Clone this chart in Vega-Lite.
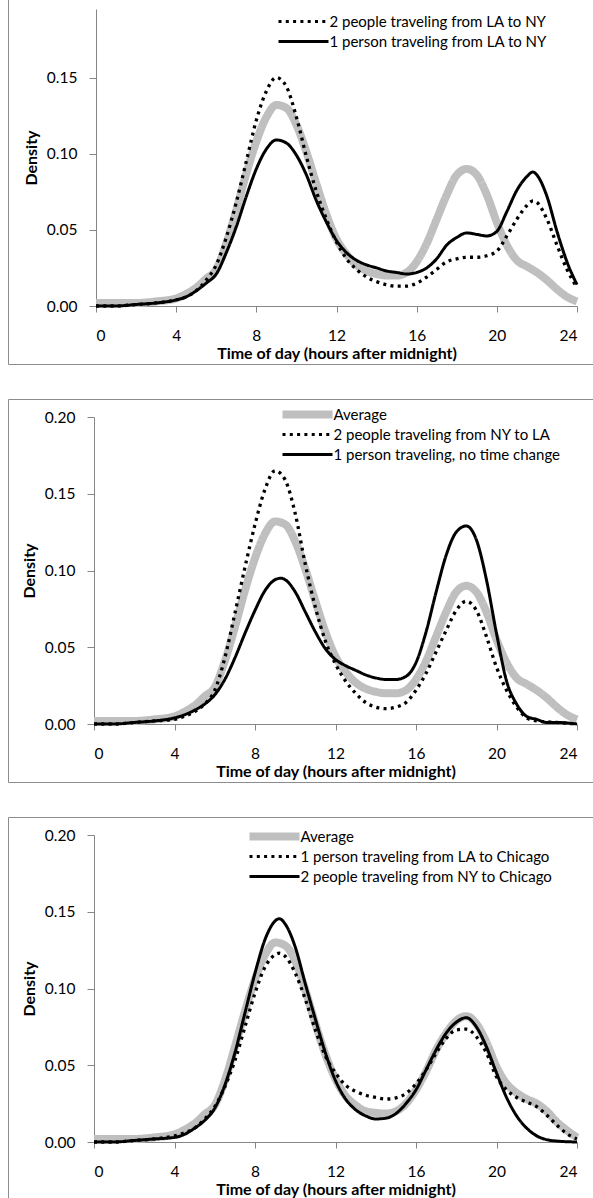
{
"$schema": "https://vega.github.io/schema/vega-lite/v6.json",
"background": "white",
"padding": {"left": 7, "top": -10, "right": 0, "bottom": 0},
"spacing": 33,
"config": {
  "font": "Lato",
  "view": {"stroke": "#8c8c8c", "strokeWidth": 1},
  "axis": {"domainColor": "#868686", "tickColor": "#868686", "grid": false, "labelFont": "Lato", "labelFontSize": 15.5, "labelColor": "#000000", "titleFont": "Lato", "titleFontSize": 16, "titleFontWeight": "bold", "titleColor": "#000000", "domainWidth": 1, "tickWidth": 1}
},
"resolve": {"scale": {"x": "independent", "y": "independent", "color": "independent", "strokeDash": "independent"}, "legend": {"color": "independent", "strokeDash": "independent"}},
"datasets": {
"p1": [
{"hour":0,"density":0.002,"series":"Average"},{"hour":1,"density":0.002,"series":"Average"},{"hour":2,"density":0.002,"series":"Average"},{"hour":3,"density":0.003,"series":"Average"},{"hour":4,"density":0.005,"series":"Average"},{"hour":4.5,"density":0.008,"series":"Average"},{"hour":5,"density":0.012,"series":"Average"},{"hour":5.5,"density":0.018,"series":"Average"},{"hour":6,"density":0.024,"series":"Average"},{"hour":6.5,"density":0.041,"series":"Average"},{"hour":7,"density":0.063,"series":"Average"},{"hour":7.5,"density":0.087,"series":"Average"},{"hour":8,"density":0.108,"series":"Average"},{"hour":8.5,"density":0.124,"series":"Average"},{"hour":9,"density":0.132,"series":"Average"},{"hour":9.5,"density":0.130,"series":"Average"},{"hour":10,"density":0.119,"series":"Average"},{"hour":10.5,"density":0.101,"series":"Average"},{"hour":11,"density":0.080,"series":"Average"},{"hour":11.5,"density":0.060,"series":"Average"},{"hour":12,"density":0.044,"series":"Average"},{"hour":12.5,"density":0.034,"series":"Average"},{"hour":13,"density":0.027,"series":"Average"},{"hour":13.5,"density":0.023,"series":"Average"},{"hour":14,"density":0.021,"series":"Average"},{"hour":14.5,"density":0.020,"series":"Average"},{"hour":15,"density":0.020,"series":"Average"},{"hour":15.5,"density":0.022,"series":"Average"},{"hour":16,"density":0.029,"series":"Average"},{"hour":16.5,"density":0.041,"series":"Average"},{"hour":17,"density":0.057,"series":"Average"},{"hour":17.5,"density":0.073,"series":"Average"},{"hour":18,"density":0.086,"series":"Average"},{"hour":18.5,"density":0.090,"series":"Average"},{"hour":19,"density":0.086,"series":"Average"},{"hour":19.5,"density":0.073,"series":"Average"},{"hour":20,"density":0.055,"series":"Average"},{"hour":20.5,"density":0.040,"series":"Average"},{"hour":21,"density":0.030,"series":"Average"},{"hour":21.5,"density":0.026,"series":"Average"},{"hour":22,"density":0.022,"series":"Average"},{"hour":22.5,"density":0.017,"series":"Average"},{"hour":23,"density":0.011,"series":"Average"},{"hour":23.5,"density":0.006,"series":"Average"},{"hour":24,"density":0.003,"series":"Average"},
{"hour":0,"density":0.000,"series":"2 people traveling from LA to NY"},{"hour":1,"density":0.000,"series":"2 people traveling from LA to NY"},{"hour":2,"density":0.001,"series":"2 people traveling from LA to NY"},{"hour":3,"density":0.002,"series":"2 people traveling from LA to NY"},{"hour":4,"density":0.004,"series":"2 people traveling from LA to NY"},{"hour":4.5,"density":0.006,"series":"2 people traveling from LA to NY"},{"hour":5,"density":0.010,"series":"2 people traveling from LA to NY"},{"hour":5.5,"density":0.017,"series":"2 people traveling from LA to NY"},{"hour":6,"density":0.027,"series":"2 people traveling from LA to NY"},{"hour":6.5,"density":0.045,"series":"2 people traveling from LA to NY"},{"hour":7,"density":0.068,"series":"2 people traveling from LA to NY"},{"hour":7.5,"density":0.095,"series":"2 people traveling from LA to NY"},{"hour":8,"density":0.122,"series":"2 people traveling from LA to NY"},{"hour":8.5,"density":0.141,"series":"2 people traveling from LA to NY"},{"hour":9,"density":0.150,"series":"2 people traveling from LA to NY"},{"hour":9.5,"density":0.144,"series":"2 people traveling from LA to NY"},{"hour":10,"density":0.124,"series":"2 people traveling from LA to NY"},{"hour":10.5,"density":0.098,"series":"2 people traveling from LA to NY"},{"hour":11,"density":0.075,"series":"2 people traveling from LA to NY"},{"hour":11.5,"density":0.057,"series":"2 people traveling from LA to NY"},{"hour":12,"density":0.042,"series":"2 people traveling from LA to NY"},{"hour":12.5,"density":0.031,"series":"2 people traveling from LA to NY"},{"hour":13,"density":0.024,"series":"2 people traveling from LA to NY"},{"hour":13.5,"density":0.019,"series":"2 people traveling from LA to NY"},{"hour":14,"density":0.016,"series":"2 people traveling from LA to NY"},{"hour":14.5,"density":0.014,"series":"2 people traveling from LA to NY"},{"hour":15,"density":0.013,"series":"2 people traveling from LA to NY"},{"hour":15.5,"density":0.013,"series":"2 people traveling from LA to NY"},{"hour":16,"density":0.015,"series":"2 people traveling from LA to NY"},{"hour":16.5,"density":0.019,"series":"2 people traveling from LA to NY"},{"hour":17,"density":0.024,"series":"2 people traveling from LA to NY"},{"hour":17.5,"density":0.029,"series":"2 people traveling from LA to NY"},{"hour":18,"density":0.031,"series":"2 people traveling from LA to NY"},{"hour":18.5,"density":0.032,"series":"2 people traveling from LA to NY"},{"hour":19,"density":0.032,"series":"2 people traveling from LA to NY"},{"hour":19.5,"density":0.033,"series":"2 people traveling from LA to NY"},{"hour":20,"density":0.036,"series":"2 people traveling from LA to NY"},{"hour":20.5,"density":0.046,"series":"2 people traveling from LA to NY"},{"hour":21,"density":0.057,"series":"2 people traveling from LA to NY"},{"hour":21.5,"density":0.066,"series":"2 people traveling from LA to NY"},{"hour":21.8,"density":0.069,"series":"2 people traveling from LA to NY"},{"hour":22,"density":0.068,"series":"2 people traveling from LA to NY"},{"hour":22.5,"density":0.057,"series":"2 people traveling from LA to NY"},{"hour":23,"density":0.040,"series":"2 people traveling from LA to NY"},{"hour":23.5,"density":0.024,"series":"2 people traveling from LA to NY"},{"hour":24,"density":0.012,"series":"2 people traveling from LA to NY"},
{"hour":0,"density":0.000,"series":"1 person traveling from LA to NY"},{"hour":1,"density":0.000,"series":"1 person traveling from LA to NY"},{"hour":2,"density":0.001,"series":"1 person traveling from LA to NY"},{"hour":3,"density":0.002,"series":"1 person traveling from LA to NY"},{"hour":4,"density":0.004,"series":"1 person traveling from LA to NY"},{"hour":4.5,"density":0.006,"series":"1 person traveling from LA to NY"},{"hour":5,"density":0.010,"series":"1 person traveling from LA to NY"},{"hour":5.5,"density":0.015,"series":"1 person traveling from LA to NY"},{"hour":6,"density":0.021,"series":"1 person traveling from LA to NY"},{"hour":6.5,"density":0.035,"series":"1 person traveling from LA to NY"},{"hour":7,"density":0.052,"series":"1 person traveling from LA to NY"},{"hour":7.5,"density":0.072,"series":"1 person traveling from LA to NY"},{"hour":8,"density":0.090,"series":"1 person traveling from LA to NY"},{"hour":8.5,"density":0.103,"series":"1 person traveling from LA to NY"},{"hour":9,"density":0.109,"series":"1 person traveling from LA to NY"},{"hour":9.5,"density":0.107,"series":"1 person traveling from LA to NY"},{"hour":10,"density":0.099,"series":"1 person traveling from LA to NY"},{"hour":10.5,"density":0.086,"series":"1 person traveling from LA to NY"},{"hour":11,"density":0.069,"series":"1 person traveling from LA to NY"},{"hour":11.5,"density":0.055,"series":"1 person traveling from LA to NY"},{"hour":12,"density":0.043,"series":"1 person traveling from LA to NY"},{"hour":12.5,"density":0.035,"series":"1 person traveling from LA to NY"},{"hour":13,"density":0.030,"series":"1 person traveling from LA to NY"},{"hour":13.5,"density":0.027,"series":"1 person traveling from LA to NY"},{"hour":14,"density":0.025,"series":"1 person traveling from LA to NY"},{"hour":14.5,"density":0.023,"series":"1 person traveling from LA to NY"},{"hour":15,"density":0.022,"series":"1 person traveling from LA to NY"},{"hour":15.5,"density":0.021,"series":"1 person traveling from LA to NY"},{"hour":16,"density":0.022,"series":"1 person traveling from LA to NY"},{"hour":16.5,"density":0.025,"series":"1 person traveling from LA to NY"},{"hour":17,"density":0.031,"series":"1 person traveling from LA to NY"},{"hour":17.5,"density":0.040,"series":"1 person traveling from LA to NY"},{"hour":18,"density":0.045,"series":"1 person traveling from LA to NY"},{"hour":18.5,"density":0.048,"series":"1 person traveling from LA to NY"},{"hour":19,"density":0.047,"series":"1 person traveling from LA to NY"},{"hour":19.5,"density":0.046,"series":"1 person traveling from LA to NY"},{"hour":20,"density":0.049,"series":"1 person traveling from LA to NY"},{"hour":20.5,"density":0.062,"series":"1 person traveling from LA to NY"},{"hour":21,"density":0.076,"series":"1 person traveling from LA to NY"},{"hour":21.5,"density":0.085,"series":"1 person traveling from LA to NY"},{"hour":21.8,"density":0.088,"series":"1 person traveling from LA to NY"},{"hour":22,"density":0.086,"series":"1 person traveling from LA to NY"},{"hour":22.5,"density":0.072,"series":"1 person traveling from LA to NY"},{"hour":23,"density":0.049,"series":"1 person traveling from LA to NY"},{"hour":23.5,"density":0.029,"series":"1 person traveling from LA to NY"},{"hour":24,"density":0.014,"series":"1 person traveling from LA to NY"}
],
"p2": [
{"hour":0,"density":0.002,"series":"Average"},{"hour":1,"density":0.002,"series":"Average"},{"hour":2,"density":0.002,"series":"Average"},{"hour":3,"density":0.003,"series":"Average"},{"hour":4,"density":0.005,"series":"Average"},{"hour":4.5,"density":0.008,"series":"Average"},{"hour":5,"density":0.012,"series":"Average"},{"hour":5.5,"density":0.018,"series":"Average"},{"hour":6,"density":0.024,"series":"Average"},{"hour":6.5,"density":0.041,"series":"Average"},{"hour":7,"density":0.063,"series":"Average"},{"hour":7.5,"density":0.087,"series":"Average"},{"hour":8,"density":0.108,"series":"Average"},{"hour":8.5,"density":0.124,"series":"Average"},{"hour":9,"density":0.132,"series":"Average"},{"hour":9.5,"density":0.130,"series":"Average"},{"hour":10,"density":0.119,"series":"Average"},{"hour":10.5,"density":0.101,"series":"Average"},{"hour":11,"density":0.080,"series":"Average"},{"hour":11.5,"density":0.060,"series":"Average"},{"hour":12,"density":0.044,"series":"Average"},{"hour":12.5,"density":0.034,"series":"Average"},{"hour":13,"density":0.027,"series":"Average"},{"hour":13.5,"density":0.023,"series":"Average"},{"hour":14,"density":0.021,"series":"Average"},{"hour":14.5,"density":0.020,"series":"Average"},{"hour":15,"density":0.020,"series":"Average"},{"hour":15.5,"density":0.022,"series":"Average"},{"hour":16,"density":0.029,"series":"Average"},{"hour":16.5,"density":0.041,"series":"Average"},{"hour":17,"density":0.057,"series":"Average"},{"hour":17.5,"density":0.073,"series":"Average"},{"hour":18,"density":0.086,"series":"Average"},{"hour":18.5,"density":0.090,"series":"Average"},{"hour":19,"density":0.086,"series":"Average"},{"hour":19.5,"density":0.073,"series":"Average"},{"hour":20,"density":0.055,"series":"Average"},{"hour":20.5,"density":0.040,"series":"Average"},{"hour":21,"density":0.030,"series":"Average"},{"hour":21.5,"density":0.026,"series":"Average"},{"hour":22,"density":0.022,"series":"Average"},{"hour":22.5,"density":0.017,"series":"Average"},{"hour":23,"density":0.011,"series":"Average"},{"hour":23.5,"density":0.006,"series":"Average"},{"hour":24,"density":0.003,"series":"Average"},
{"hour":0,"density":0.000,"series":"2 people traveling from NY to LA"},{"hour":1,"density":0.000,"series":"2 people traveling from NY to LA"},{"hour":2,"density":0.001,"series":"2 people traveling from NY to LA"},{"hour":3,"density":0.002,"series":"2 people traveling from NY to LA"},{"hour":4,"density":0.003,"series":"2 people traveling from NY to LA"},{"hour":4.5,"density":0.005,"series":"2 people traveling from NY to LA"},{"hour":5,"density":0.008,"series":"2 people traveling from NY to LA"},{"hour":5.5,"density":0.013,"series":"2 people traveling from NY to LA"},{"hour":6,"density":0.022,"series":"2 people traveling from NY to LA"},{"hour":6.5,"density":0.043,"series":"2 people traveling from NY to LA"},{"hour":7,"density":0.072,"series":"2 people traveling from NY to LA"},{"hour":7.5,"density":0.102,"series":"2 people traveling from NY to LA"},{"hour":8,"density":0.130,"series":"2 people traveling from NY to LA"},{"hour":8.5,"density":0.153,"series":"2 people traveling from NY to LA"},{"hour":9,"density":0.165,"series":"2 people traveling from NY to LA"},{"hour":9.5,"density":0.159,"series":"2 people traveling from NY to LA"},{"hour":10,"density":0.137,"series":"2 people traveling from NY to LA"},{"hour":10.5,"density":0.104,"series":"2 people traveling from NY to LA"},{"hour":11,"density":0.076,"series":"2 people traveling from NY to LA"},{"hour":11.5,"density":0.054,"series":"2 people traveling from NY to LA"},{"hour":12,"density":0.039,"series":"2 people traveling from NY to LA"},{"hour":12.5,"density":0.028,"series":"2 people traveling from NY to LA"},{"hour":13,"density":0.020,"series":"2 people traveling from NY to LA"},{"hour":13.5,"density":0.014,"series":"2 people traveling from NY to LA"},{"hour":14,"density":0.011,"series":"2 people traveling from NY to LA"},{"hour":14.5,"density":0.010,"series":"2 people traveling from NY to LA"},{"hour":15,"density":0.011,"series":"2 people traveling from NY to LA"},{"hour":15.5,"density":0.014,"series":"2 people traveling from NY to LA"},{"hour":16,"density":0.022,"series":"2 people traveling from NY to LA"},{"hour":16.5,"density":0.033,"series":"2 people traveling from NY to LA"},{"hour":17,"density":0.047,"series":"2 people traveling from NY to LA"},{"hour":17.5,"density":0.061,"series":"2 people traveling from NY to LA"},{"hour":18,"density":0.074,"series":"2 people traveling from NY to LA"},{"hour":18.5,"density":0.080,"series":"2 people traveling from NY to LA"},{"hour":19,"density":0.074,"series":"2 people traveling from NY to LA"},{"hour":19.5,"density":0.057,"series":"2 people traveling from NY to LA"},{"hour":20,"density":0.037,"series":"2 people traveling from NY to LA"},{"hour":20.5,"density":0.022,"series":"2 people traveling from NY to LA"},{"hour":21,"density":0.011,"series":"2 people traveling from NY to LA"},{"hour":21.5,"density":0.004,"series":"2 people traveling from NY to LA"},{"hour":22,"density":0.002,"series":"2 people traveling from NY to LA"},{"hour":23,"density":0.001,"series":"2 people traveling from NY to LA"},{"hour":24,"density":0.000,"series":"2 people traveling from NY to LA"},
{"hour":0,"density":0.000,"series":"1 person traveling, no time change"},{"hour":1,"density":0.000,"series":"1 person traveling, no time change"},{"hour":2,"density":0.001,"series":"1 person traveling, no time change"},{"hour":3,"density":0.002,"series":"1 person traveling, no time change"},{"hour":4,"density":0.004,"series":"1 person traveling, no time change"},{"hour":4.5,"density":0.006,"series":"1 person traveling, no time change"},{"hour":5,"density":0.009,"series":"1 person traveling, no time change"},{"hour":5.5,"density":0.013,"series":"1 person traveling, no time change"},{"hour":6,"density":0.019,"series":"1 person traveling, no time change"},{"hour":6.5,"density":0.029,"series":"1 person traveling, no time change"},{"hour":7,"density":0.043,"series":"1 person traveling, no time change"},{"hour":7.5,"density":0.059,"series":"1 person traveling, no time change"},{"hour":8,"density":0.074,"series":"1 person traveling, no time change"},{"hour":8.5,"density":0.087,"series":"1 person traveling, no time change"},{"hour":9,"density":0.094,"series":"1 person traveling, no time change"},{"hour":9.3,"density":0.095,"series":"1 person traveling, no time change"},{"hour":9.5,"density":0.094,"series":"1 person traveling, no time change"},{"hour":10,"density":0.086,"series":"1 person traveling, no time change"},{"hour":10.5,"density":0.073,"series":"1 person traveling, no time change"},{"hour":11,"density":0.060,"series":"1 person traveling, no time change"},{"hour":11.5,"density":0.049,"series":"1 person traveling, no time change"},{"hour":12,"density":0.042,"series":"1 person traveling, no time change"},{"hour":12.5,"density":0.038,"series":"1 person traveling, no time change"},{"hour":13,"density":0.035,"series":"1 person traveling, no time change"},{"hour":13.5,"density":0.032,"series":"1 person traveling, no time change"},{"hour":14,"density":0.030,"series":"1 person traveling, no time change"},{"hour":14.5,"density":0.029,"series":"1 person traveling, no time change"},{"hour":15,"density":0.029,"series":"1 person traveling, no time change"},{"hour":15.5,"density":0.031,"series":"1 person traveling, no time change"},{"hour":16,"density":0.040,"series":"1 person traveling, no time change"},{"hour":16.5,"density":0.060,"series":"1 person traveling, no time change"},{"hour":17,"density":0.086,"series":"1 person traveling, no time change"},{"hour":17.5,"density":0.110,"series":"1 person traveling, no time change"},{"hour":18,"density":0.125,"series":"1 person traveling, no time change"},{"hour":18.5,"density":0.129,"series":"1 person traveling, no time change"},{"hour":19,"density":0.120,"series":"1 person traveling, no time change"},{"hour":19.5,"density":0.094,"series":"1 person traveling, no time change"},{"hour":20,"density":0.059,"series":"1 person traveling, no time change"},{"hour":20.5,"density":0.028,"series":"1 person traveling, no time change"},{"hour":21,"density":0.013,"series":"1 person traveling, no time change"},{"hour":21.5,"density":0.005,"series":"1 person traveling, no time change"},{"hour":22,"density":0.003,"series":"1 person traveling, no time change"},{"hour":22.5,"density":0.001,"series":"1 person traveling, no time change"},{"hour":23,"density":0.001,"series":"1 person traveling, no time change"},{"hour":24,"density":0.000,"series":"1 person traveling, no time change"}
],
"p3": [
{"hour":0,"density":0.002,"series":"Average"},{"hour":1,"density":0.002,"series":"Average"},{"hour":2,"density":0.002,"series":"Average"},{"hour":3,"density":0.003,"series":"Average"},{"hour":4,"density":0.005,"series":"Average"},{"hour":4.5,"density":0.008,"series":"Average"},{"hour":5,"density":0.012,"series":"Average"},{"hour":5.5,"density":0.018,"series":"Average"},{"hour":6,"density":0.024,"series":"Average"},{"hour":6.5,"density":0.040,"series":"Average"},{"hour":7,"density":0.062,"series":"Average"},{"hour":7.5,"density":0.085,"series":"Average"},{"hour":8,"density":0.106,"series":"Average"},{"hour":8.5,"density":0.122,"series":"Average"},{"hour":9,"density":0.130,"series":"Average"},{"hour":9.5,"density":0.128,"series":"Average"},{"hour":10,"density":0.118,"series":"Average"},{"hour":10.5,"density":0.099,"series":"Average"},{"hour":11,"density":0.077,"series":"Average"},{"hour":11.5,"density":0.057,"series":"Average"},{"hour":12,"density":0.041,"series":"Average"},{"hour":12.5,"density":0.030,"series":"Average"},{"hour":13,"density":0.024,"series":"Average"},{"hour":13.5,"density":0.020,"series":"Average"},{"hour":14,"density":0.019,"series":"Average"},{"hour":14.5,"density":0.0185,"series":"Average"},{"hour":15,"density":0.020,"series":"Average"},{"hour":15.5,"density":0.025,"series":"Average"},{"hour":16,"density":0.034,"series":"Average"},{"hour":16.5,"density":0.046,"series":"Average"},{"hour":17,"density":0.060,"series":"Average"},{"hour":17.5,"density":0.071,"series":"Average"},{"hour":18,"density":0.079,"series":"Average"},{"hour":18.5,"density":0.082,"series":"Average"},{"hour":19,"density":0.077,"series":"Average"},{"hour":19.5,"density":0.065,"series":"Average"},{"hour":20,"density":0.049,"series":"Average"},{"hour":20.5,"density":0.038,"series":"Average"},{"hour":21,"density":0.032,"series":"Average"},{"hour":21.5,"density":0.028,"series":"Average"},{"hour":22,"density":0.025,"series":"Average"},{"hour":22.5,"density":0.020,"series":"Average"},{"hour":23,"density":0.013,"series":"Average"},{"hour":23.5,"density":0.0076,"series":"Average"},{"hour":24,"density":0.003,"series":"Average"},
{"hour":0,"density":0.000,"series":"1 person traveling from LA to Chicago"},{"hour":1,"density":0.000,"series":"1 person traveling from LA to Chicago"},{"hour":2,"density":0.001,"series":"1 person traveling from LA to Chicago"},{"hour":3,"density":0.002,"series":"1 person traveling from LA to Chicago"},{"hour":4,"density":0.004,"series":"1 person traveling from LA to Chicago"},{"hour":4.5,"density":0.006,"series":"1 person traveling from LA to Chicago"},{"hour":5,"density":0.009,"series":"1 person traveling from LA to Chicago"},{"hour":5.5,"density":0.015,"series":"1 person traveling from LA to Chicago"},{"hour":6,"density":0.023,"series":"1 person traveling from LA to Chicago"},{"hour":6.5,"density":0.036,"series":"1 person traveling from LA to Chicago"},{"hour":7,"density":0.053,"series":"1 person traveling from LA to Chicago"},{"hour":7.5,"density":0.075,"series":"1 person traveling from LA to Chicago"},{"hour":8,"density":0.097,"series":"1 person traveling from LA to Chicago"},{"hour":8.5,"density":0.114,"series":"1 person traveling from LA to Chicago"},{"hour":9,"density":0.122,"series":"1 person traveling from LA to Chicago"},{"hour":9.2,"density":0.123,"series":"1 person traveling from LA to Chicago"},{"hour":9.5,"density":0.121,"series":"1 person traveling from LA to Chicago"},{"hour":10,"density":0.110,"series":"1 person traveling from LA to Chicago"},{"hour":10.5,"density":0.093,"series":"1 person traveling from LA to Chicago"},{"hour":11,"density":0.073,"series":"1 person traveling from LA to Chicago"},{"hour":11.5,"density":0.056,"series":"1 person traveling from LA to Chicago"},{"hour":12,"density":0.045,"series":"1 person traveling from LA to Chicago"},{"hour":12.5,"density":0.037,"series":"1 person traveling from LA to Chicago"},{"hour":13,"density":0.033,"series":"1 person traveling from LA to Chicago"},{"hour":13.5,"density":0.0305,"series":"1 person traveling from LA to Chicago"},{"hour":14,"density":0.029,"series":"1 person traveling from LA to Chicago"},{"hour":14.5,"density":0.028,"series":"1 person traveling from LA to Chicago"},{"hour":15,"density":0.0288,"series":"1 person traveling from LA to Chicago"},{"hour":15.5,"density":0.0316,"series":"1 person traveling from LA to Chicago"},{"hour":16,"density":0.038,"series":"1 person traveling from LA to Chicago"},{"hour":16.5,"density":0.047,"series":"1 person traveling from LA to Chicago"},{"hour":17,"density":0.058,"series":"1 person traveling from LA to Chicago"},{"hour":17.5,"density":0.0675,"series":"1 person traveling from LA to Chicago"},{"hour":18,"density":0.073,"series":"1 person traveling from LA to Chicago"},{"hour":18.5,"density":0.0735,"series":"1 person traveling from LA to Chicago"},{"hour":19,"density":0.0686,"series":"1 person traveling from LA to Chicago"},{"hour":19.5,"density":0.058,"series":"1 person traveling from LA to Chicago"},{"hour":20,"density":0.0425,"series":"1 person traveling from LA to Chicago"},{"hour":20.5,"density":0.034,"series":"1 person traveling from LA to Chicago"},{"hour":21,"density":0.029,"series":"1 person traveling from LA to Chicago"},{"hour":21.5,"density":0.026,"series":"1 person traveling from LA to Chicago"},{"hour":22,"density":0.023,"series":"1 person traveling from LA to Chicago"},{"hour":22.5,"density":0.0174,"series":"1 person traveling from LA to Chicago"},{"hour":23,"density":0.011,"series":"1 person traveling from LA to Chicago"},{"hour":23.5,"density":0.0054,"series":"1 person traveling from LA to Chicago"},{"hour":24,"density":0.002,"series":"1 person traveling from LA to Chicago"},
{"hour":0,"density":0.000,"series":"2 people traveling from NY to Chicago"},{"hour":1,"density":0.000,"series":"2 people traveling from NY to Chicago"},{"hour":2,"density":0.001,"series":"2 people traveling from NY to Chicago"},{"hour":3,"density":0.002,"series":"2 people traveling from NY to Chicago"},{"hour":4,"density":0.003,"series":"2 people traveling from NY to Chicago"},{"hour":4.5,"density":0.005,"series":"2 people traveling from NY to Chicago"},{"hour":5,"density":0.009,"series":"2 people traveling from NY to Chicago"},{"hour":5.5,"density":0.014,"series":"2 people traveling from NY to Chicago"},{"hour":6,"density":0.022,"series":"2 people traveling from NY to Chicago"},{"hour":6.5,"density":0.037,"series":"2 people traveling from NY to Chicago"},{"hour":7,"density":0.058,"series":"2 people traveling from NY to Chicago"},{"hour":7.5,"density":0.084,"series":"2 people traveling from NY to Chicago"},{"hour":8,"density":0.110,"series":"2 people traveling from NY to Chicago"},{"hour":8.5,"density":0.132,"series":"2 people traveling from NY to Chicago"},{"hour":9,"density":0.144,"series":"2 people traveling from NY to Chicago"},{"hour":9.2,"density":0.1455,"series":"2 people traveling from NY to Chicago"},{"hour":9.5,"density":0.142,"series":"2 people traveling from NY to Chicago"},{"hour":10,"density":0.127,"series":"2 people traveling from NY to Chicago"},{"hour":10.5,"density":0.103,"series":"2 people traveling from NY to Chicago"},{"hour":11,"density":0.080,"series":"2 people traveling from NY to Chicago"},{"hour":11.5,"density":0.058,"series":"2 people traveling from NY to Chicago"},{"hour":12,"density":0.040,"series":"2 people traveling from NY to Chicago"},{"hour":12.5,"density":0.028,"series":"2 people traveling from NY to Chicago"},{"hour":13,"density":0.021,"series":"2 people traveling from NY to Chicago"},{"hour":13.5,"density":0.017,"series":"2 people traveling from NY to Chicago"},{"hour":14,"density":0.015,"series":"2 people traveling from NY to Chicago"},{"hour":14.5,"density":0.0155,"series":"2 people traveling from NY to Chicago"},{"hour":15,"density":0.0185,"series":"2 people traveling from NY to Chicago"},{"hour":15.5,"density":0.025,"series":"2 people traveling from NY to Chicago"},{"hour":16,"density":0.034,"series":"2 people traveling from NY to Chicago"},{"hour":16.5,"density":0.047,"series":"2 people traveling from NY to Chicago"},{"hour":17,"density":0.060,"series":"2 people traveling from NY to Chicago"},{"hour":17.5,"density":0.071,"series":"2 people traveling from NY to Chicago"},{"hour":18,"density":0.078,"series":"2 people traveling from NY to Chicago"},{"hour":18.5,"density":0.081,"series":"2 people traveling from NY to Chicago"},{"hour":19,"density":0.075,"series":"2 people traveling from NY to Chicago"},{"hour":19.5,"density":0.062,"series":"2 people traveling from NY to Chicago"},{"hour":20,"density":0.045,"series":"2 people traveling from NY to Chicago"},{"hour":20.5,"density":0.029,"series":"2 people traveling from NY to Chicago"},{"hour":21,"density":0.017,"series":"2 people traveling from NY to Chicago"},{"hour":21.5,"density":0.009,"series":"2 people traveling from NY to Chicago"},{"hour":22,"density":0.004,"series":"2 people traveling from NY to Chicago"},{"hour":22.5,"density":0.0015,"series":"2 people traveling from NY to Chicago"},{"hour":23,"density":0.0006,"series":"2 people traveling from NY to Chicago"},{"hour":24,"density":0.000,"series":"2 people traveling from NY to Chicago"}
]
},
"vconcat": [
{
  "width": 588, "height": 373,
  "data": {"name": "p1"},
  "mark": {"type": "line", "interpolate": "monotone"},
  "encoding": {
    "x": {"field": "hour", "type": "quantitative", "scale": {"domain": [0, 24], "range": [88, 569], "nice": false, "zero": false}, "axis": {"values": [0, 4, 8, 12, 16, 20, 24], "offset": -58, "title": "Time of day (hours after midnight)", "tickSize": 6, "labelPadding": 16, "titlePadding": 1.5}},
    "y": {"field": "density", "type": "quantitative", "scale": {"domain": [0, 0.195], "range": [315, 18], "nice": false}, "axis": {"values": [0, 0.05, 0.1, 0.15], "format": ".2f", "offset": -88, "title": "Density", "tickSize": 7, "labelPadding": 12, "titlePadding": 7}},
    "color": {"field": "series", "type": "nominal", "scale": {"domain": ["Average", "2 people traveling from LA to NY", "1 person traveling from LA to NY"], "range": ["#bfbfbf", "#000000", "#000000"]},
      "legend": {"title": null, "values": ["2 people traveling from LA to NY", "1 person traveling from LA to NY"], "orient": "none", "legendX": 288, "legendY": 23, "symbolType": "M-25,0H25", "symbolSize": 4, "labelFont": "Lato", "labelFontSize": 15, "labelColor": "#000000", "labelOffset": 18.5, "rowPadding": 4, "padding": 0, "labelLimit": 400, "encode": {"symbols": {"update": {"strokeWidth": {"signal": "datum.value === 'Average' ? 8 : 3"}, "strokeJoin": {"value": "round"}}}}}},
    "strokeDash": {"field": "series", "type": "nominal", "scale": {"domain": ["Average", "2 people traveling from LA to NY", "1 person traveling from LA to NY"], "range": [[1, 0], [3, 4.3], [1, 0]]},
      "legend": {"title": null, "values": ["2 people traveling from LA to NY", "1 person traveling from LA to NY"], "orient": "none", "legendX": 288, "legendY": 23, "symbolType": "M-25,0H25", "symbolSize": 4, "labelFont": "Lato", "labelFontSize": 15, "labelColor": "#000000", "labelOffset": 18.5, "rowPadding": 4, "padding": 0, "labelLimit": 400, "encode": {"symbols": {"update": {"strokeWidth": {"signal": "datum.value === 'Average' ? 8 : 3"}, "strokeJoin": {"value": "round"}}}}}},
    "strokeWidth": {"condition": [{"test": "datum.series === 'Average'", "value": 8}, {"test": "datum.series === '2 people traveling from LA to NY'", "value": 3.3}], "value": 3}
  }
},
{
  "width": 588, "height": 383,
  "data": {"name": "p2"},
  "mark": {"type": "line", "interpolate": "monotone"},
  "encoding": {
    "x": {"field": "hour", "type": "quantitative", "scale": {"domain": [0, 24], "range": [86, 569], "nice": false, "zero": false}, "axis": {"values": [0, 4, 8, 12, 16, 20, 24], "offset": -58, "title": "Time of day (hours after midnight)", "tickSize": 6, "labelPadding": 16, "titlePadding": 1.5}},
    "y": {"field": "density", "type": "quantitative", "scale": {"domain": [0, 0.2], "range": [325, 18], "nice": false}, "axis": {"values": [0, 0.05, 0.1, 0.15, 0.2], "format": ".2f", "offset": -86, "title": "Density", "tickSize": 7, "labelPadding": 12, "titlePadding": 7}},
    "color": {"field": "series", "type": "nominal", "scale": {"domain": ["Average", "2 people traveling from NY to LA", "1 person traveling, no time change"], "range": ["#bfbfbf", "#000000", "#000000"]},
      "legend": {"title": null, "orient": "none", "legendX": 292, "legendY": 8, "symbolType": "M-25,0H25", "symbolSize": 4, "labelFont": "Lato", "labelFontSize": 15, "labelColor": "#000000", "labelOffset": 18.5, "rowPadding": 4, "padding": 0, "labelLimit": 400, "encode": {"symbols": {"update": {"strokeWidth": {"signal": "datum.value === 'Average' ? 8 : 3"}, "strokeJoin": {"value": "round"}}}}}},
    "strokeDash": {"field": "series", "type": "nominal", "scale": {"domain": ["Average", "2 people traveling from NY to LA", "1 person traveling, no time change"], "range": [[1, 0], [3, 4.3], [1, 0]]},
      "legend": {"title": null, "orient": "none", "legendX": 292, "legendY": 8, "symbolType": "M-25,0H25", "symbolSize": 4, "labelFont": "Lato", "labelFontSize": 15, "labelColor": "#000000", "labelOffset": 18.5, "rowPadding": 4, "padding": 0, "labelLimit": 400, "encode": {"symbols": {"update": {"strokeWidth": {"signal": "datum.value === 'Average' ? 8 : 3"}, "strokeJoin": {"value": "round"}}}}}},
    "strokeWidth": {"condition": [{"test": "datum.series === 'Average'", "value": 8}, {"test": "datum.series === '2 people traveling from NY to LA'", "value": 3.3}], "value": 3}
  }
},
{
  "width": 588, "height": 381,
  "data": {"name": "p3"},
  "mark": {"type": "line", "interpolate": "monotone"},
  "encoding": {
    "x": {"field": "hour", "type": "quantitative", "scale": {"domain": [0, 24], "range": [86, 569], "nice": false, "zero": false}, "axis": {"values": [0, 4, 8, 12, 16, 20, 24], "offset": -56, "title": "Time of day (hours after midnight)", "tickSize": 6, "labelPadding": 16, "titlePadding": 1.5}},
    "y": {"field": "density", "type": "quantitative", "scale": {"domain": [0, 0.2], "range": [325, 18], "nice": false}, "axis": {"values": [0, 0.05, 0.1, 0.15, 0.2], "format": ".2f", "offset": -86, "title": "Density", "tickSize": 7, "labelPadding": 12, "titlePadding": 7}},
    "color": {"field": "series", "type": "nominal", "scale": {"domain": ["Average", "1 person traveling from LA to Chicago", "2 people traveling from NY to Chicago"], "range": ["#bfbfbf", "#000000", "#000000"]},
      "legend": {"title": null, "orient": "none", "legendX": 259, "legendY": 12, "symbolType": "M-25,0H25", "symbolSize": 4, "labelFont": "Lato", "labelFontSize": 15, "labelColor": "#000000", "labelOffset": 18.5, "rowPadding": 4, "padding": 0, "labelLimit": 400, "encode": {"symbols": {"update": {"strokeWidth": {"signal": "datum.value === 'Average' ? 8 : 3"}, "strokeJoin": {"value": "round"}}}}}},
    "strokeDash": {"field": "series", "type": "nominal", "scale": {"domain": ["Average", "1 person traveling from LA to Chicago", "2 people traveling from NY to Chicago"], "range": [[1, 0], [3, 4.3], [1, 0]]},
      "legend": {"title": null, "orient": "none", "legendX": 259, "legendY": 12, "symbolType": "M-25,0H25", "symbolSize": 4, "labelFont": "Lato", "labelFontSize": 15, "labelColor": "#000000", "labelOffset": 18.5, "rowPadding": 4, "padding": 0, "labelLimit": 400, "encode": {"symbols": {"update": {"strokeWidth": {"signal": "datum.value === 'Average' ? 8 : 3"}, "strokeJoin": {"value": "round"}}}}}},
    "strokeWidth": {"condition": [{"test": "datum.series === 'Average'", "value": 8}, {"test": "datum.series === '1 person traveling from LA to Chicago'", "value": 3.3}], "value": 3}
  }
}
]
}
